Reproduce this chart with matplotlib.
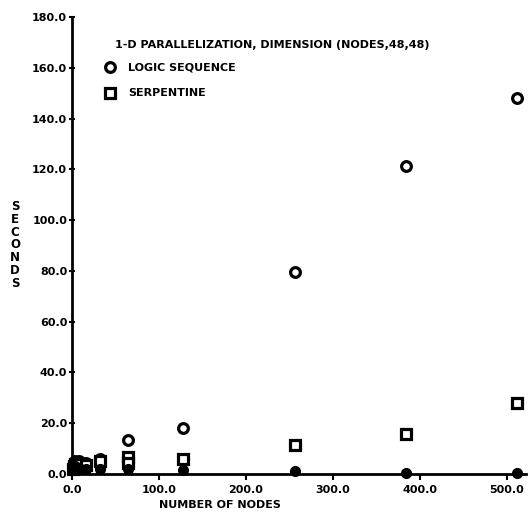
import matplotlib
matplotlib.use("Agg")
import matplotlib.pyplot as plt

# ---- data ----
nodes = [1, 2, 4, 8, 16, 32, 64, 128, 256, 384, 512]
logic_sequence = [3.0, 4.0, 5.0, 5.0, 4.5, 6.0, 13.4, 18.2, 79.5, 121.5, 148.0]
serpentine = [2.0, 3.0, 4.0, 4.0, 3.5, 5.0, 6.8, 6.0, 11.4, 15.7, 28.0]
near_zero = [2.0, 2.5, 3.0, 2.5, 2.0, 2.0, 2.0, 1.5, 1.0, 0.5, 0.5]
serp_extra_x = [64]
serp_extra_y = [4.5]

x_ticks = [0, 100, 200, 300, 400, 500]
y_ticks = [0, 20, 40, 60, 80, 100, 120, 140, 160, 180]

title_text = "1-D PARALLELIZATION, DIMENSION (NODES,48,48)"
legend_labels = ["LOGIC SEQUENCE", "SERPENTINE"]
xlabel = "NUMBER OF NODES"
ylabel = "SECONDS"

W, H = 528, 520
fig = plt.figure(figsize=(W / 100, H / 100), dpi=100)
# axes placed in pixel terms
left, right, bottom, top = 72, 526, 474, 17
ax = fig.add_axes([left / W, (H - bottom) / H, (right - left) / W, (bottom - top) / H])
ax.set_xlim(0, (right - left) / 0.87)
ax.set_ylim(0, 180)

MS, MEW = 7, 2.3
mk = dict(linestyle="none", color="black", markerfacecolor="white",
          markersize=MS, markeredgewidth=MEW, clip_on=False)
ax.plot(nodes, logic_sequence, marker="o", **mk)
ax.plot(nodes, serpentine, marker="s", **mk)
ax.plot(serp_extra_x, serp_extra_y, marker="s", **mk)
ax.plot(nodes, near_zero, marker="o", linestyle="none", color="black",
        markersize=MS, clip_on=False)

for s in ["top", "right"]:
    ax.spines[s].set_visible(False)
for s in ["left", "bottom"]:
    ax.spines[s].set_linewidth(2.0)

ax.set_xticks(x_ticks)
ax.set_yticks(y_ticks)
ax.set_xticklabels([f"{v:.1f}" for v in x_ticks], fontsize=8, fontweight="bold")
ax.set_yticklabels([f"{v:.1f}" for v in y_ticks], fontsize=8, fontweight="bold")
ax.tick_params(axis="y", direction="inout", length=5, width=1.5, pad=1)
ax.tick_params(axis="x", direction="out", length=4, width=1.5, pad=4)

# title and legend drawn in the upper-left of the plot
fig.text(115 / W, 1 - 45 / H, title_text, fontsize=8, fontweight="bold",
         ha="left", va="center")
ax.plot([(110 - left) / (right - left)], [1 - (67 - top) / (bottom - top)],
        transform=ax.transAxes, marker="o", color="black",
        markerfacecolor="white", markersize=MS, markeredgewidth=MEW, clip_on=False)
ax.plot([(110 - left) / (right - left)], [1 - (93 - top) / (bottom - top)],
        transform=ax.transAxes, marker="s", color="black",
        markerfacecolor="white", markersize=MS, markeredgewidth=MEW, clip_on=False)
fig.text(128 / W, 1 - 67 / H, legend_labels[0], fontsize=8, fontweight="bold",
         ha="left", va="center")
fig.text(128 / W, 1 - 93 / H, legend_labels[1], fontsize=8, fontweight="bold",
         ha="left", va="center")

fig.text(220 / W, 1 - 505 / H, xlabel, fontsize=8, fontweight="bold",
         ha="center", va="center")
fig.text(15 / W, 1 - 245 / H, "\n".join(ylabel), fontsize=8.5, fontweight="bold",
         ha="center", va="center", linespacing=0.98)

fig.savefig("out.png", dpi=100, facecolor="white")
